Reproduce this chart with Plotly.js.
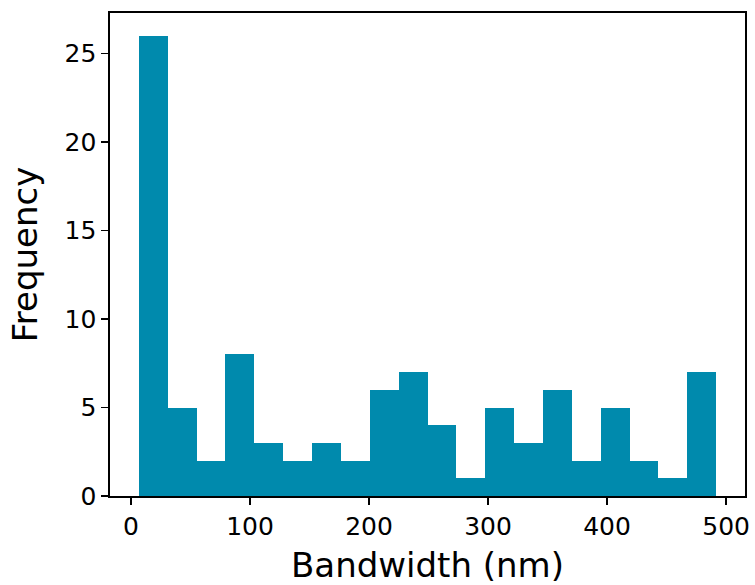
<!DOCTYPE html>
<html>
<head>
<meta charset="utf-8">
<script src="https://cdn.plot.ly/plotly-3.0.1.min.js"></script>
<style>
  html, body { margin: 0; padding: 0; background: #ffffff; }
  #chart { width: 755px; height: 585px; }
</style>
</head>
<body>
<div id="chart"></div>
<script>
// Histogram data
const binMin = 6.6;      // left edge of first bin (nm)
const binMax = 491.7;    // right edge of last bin (nm)
const counts = [26, 5, 2, 8, 3, 2, 3, 2, 6, 7, 4, 1, 5, 3, 6, 2, 5, 2, 1, 7];
const xTickVals = [0, 100, 200, 300, 400, 500];
const yTickVals = [0, 5, 10, 15, 20, 25];
const xLabel = 'Bandwidth (nm)';
const yLabel = 'Frequency';

const nBins = counts.length;
const binWidth = (binMax - binMin) / nBins;
const centers = counts.map((_, i) => binMin + binWidth * (i + 0.5));

const trace = {
  type: 'bar',
  x: centers,
  y: counts,
  width: centers.map(() => binWidth),
  marker: { color: '#008aad', line: { width: 0 } },
  hoverinfo: 'skip'
};

const font = { family: 'DejaVu Sans, sans-serif', color: '#000000' };

const layout = {
  width: 755,
  height: 585,
  margin: { l: 110, r: 9.5, t: 13, b: 88.5, pad: 0 },
  paper_bgcolor: '#ffffff',
  plot_bgcolor: '#ffffff',
  showlegend: false,
  bargap: 0,
  font: font,
  xaxis: {
    range: [-17.65, 515.9],
    tickmode: 'array',
    tickvals: xTickVals,
    ticktext: xTickVals.map(String),
    ticks: 'outside',
    ticklen: 7,
    tickwidth: 1.6,
    tickcolor: '#000000',
    showline: true,
    linecolor: '#000000',
    linewidth: 1.6,
    mirror: true,
    showgrid: false,
    zeroline: false,
    tickfont: { family: font.family, size: 25, color: '#000000' },
    title: { text: xLabel, font: { family: font.family, size: 34, color: '#000000' }, standoff: 15 },
    automargin: false
  },
  yaxis: {
    range: [0, 27.3],
    tickmode: 'array',
    tickvals: yTickVals,
    ticktext: yTickVals.map(String),
    ticks: 'outside',
    ticklen: 7,
    tickwidth: 1.6,
    tickcolor: '#000000',
    showline: true,
    linecolor: '#000000',
    linewidth: 1.6,
    mirror: true,
    showgrid: false,
    zeroline: false,
    tickfont: { family: font.family, size: 25, color: '#000000' },
    title: { text: yLabel, font: { family: font.family, size: 34, color: '#000000' }, standoff: 16 },
    automargin: false
  }
};

Plotly.newPlot('chart', [trace], layout, { displayModeBar: false, staticPlot: true });
</script>
</body>
</html>
